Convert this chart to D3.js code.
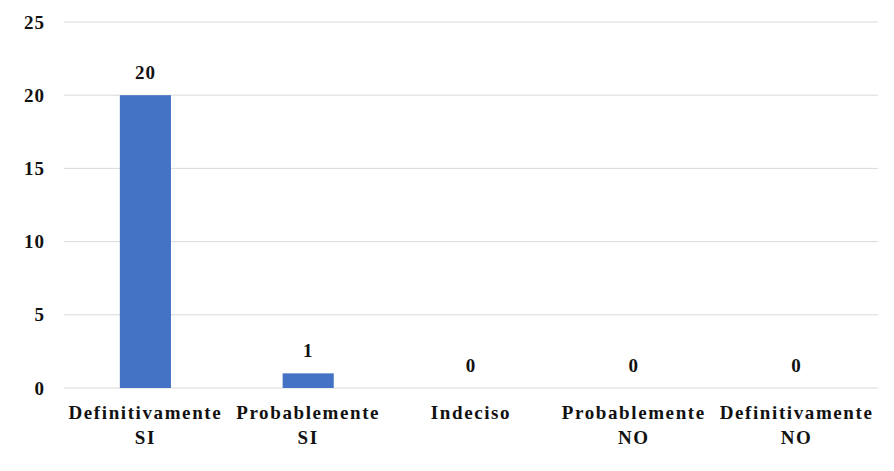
<!DOCTYPE html>
<html>
<head>
<meta charset="utf-8">
<script src="https://cdn.jsdelivr.net/npm/d3@7/dist/d3.min.js"></script>
<style>
  html, body { margin: 0; padding: 0; background: #fff; }
  svg text { font-family: "Liberation Serif", "Times New Roman", serif; font-weight: bold; fill: #111; }
</style>
</head>
<body>
<svg id="chart" width="894" height="471"></svg>
<script>
// Survey answers and counts
const categories = [["Definitivamente", "SI"], ["Probablemente", "SI"], ["Indeciso"], ["Probablemente", "NO"], ["Definitivamente", "NO"]];
const counts = [20, 1, 0, 0, 0];
const yTicks = [0, 5, 10, 15, 20, 25];

const svg = d3.select("#chart");
const margin = { top: 22, right: 16, bottom: 83, left: 64 };
const W = 894, H = 471;
const FONT = "'Liberation Serif', 'Times New Roman', serif";

const keys = categories.map(c => c.join(" "));
const x = d3.scaleBand().domain(keys).range([margin.left, W - margin.right]).paddingInner(0.686).paddingOuter(0.343);
const y = d3.scaleLinear().domain([0, 25]).range([H - margin.bottom, margin.top]);

// Horizontal gridlines
svg.append("g").selectAll("line").data(yTicks).join("line")
  .attr("x1", margin.left).attr("x2", W - margin.right)
  .attr("y1", d => y(d)).attr("y2", d => y(d))
  .attr("stroke", "#d9d9d9").attr("stroke-width", 1);

// Y axis labels
const yAxis = d3.axisLeft(y).tickValues(yTicks).tickSize(0).tickPadding(19);
svg.append("g").attr("transform", `translate(${margin.left},0)`).call(yAxis)
  .call(g => g.select(".domain").remove())
  .call(g => g.selectAll("text")
    .style("font-size", "19px").style("font-family", FONT).style("font-weight", "bold")
    .style("letter-spacing", "1px").attr("fill", "#111"));

// Bars
svg.append("g").selectAll("rect").data(counts).join("rect")
  .attr("x", (d, i) => x(keys[i]))
  .attr("width", x.bandwidth())
  .attr("y", d => y(d))
  .attr("height", d => y(0) - y(d))
  .attr("fill", "#4472c4");

// Value labels
svg.append("g").selectAll("text").data(counts).join("text")
  .attr("x", (d, i) => x(keys[i]) + x.bandwidth() / 2)
  .attr("y", d => y(d) - 16)
  .attr("text-anchor", "middle")
  .style("font-size", "19px")
  .style("letter-spacing", "1px")
  .text(d => d);

// Category labels (two lines)
const xl = svg.append("g").selectAll("text").data(categories).join("text")
  .attr("x", (d, i) => x(keys[i]) + x.bandwidth() / 2)
  .attr("y", y(0) + 31)
  .attr("text-anchor", "middle")
  .style("font-size", "19px")
  .style("letter-spacing", "1.6px");
xl.selectAll("tspan").data(d => d).join("tspan")
  .attr("x", function() { return this.parentNode.getAttribute("x"); })
  .attr("dy", (d, i) => i === 0 ? 0 : 25)
  .text(d => d);
</script>
</body>
</html>
